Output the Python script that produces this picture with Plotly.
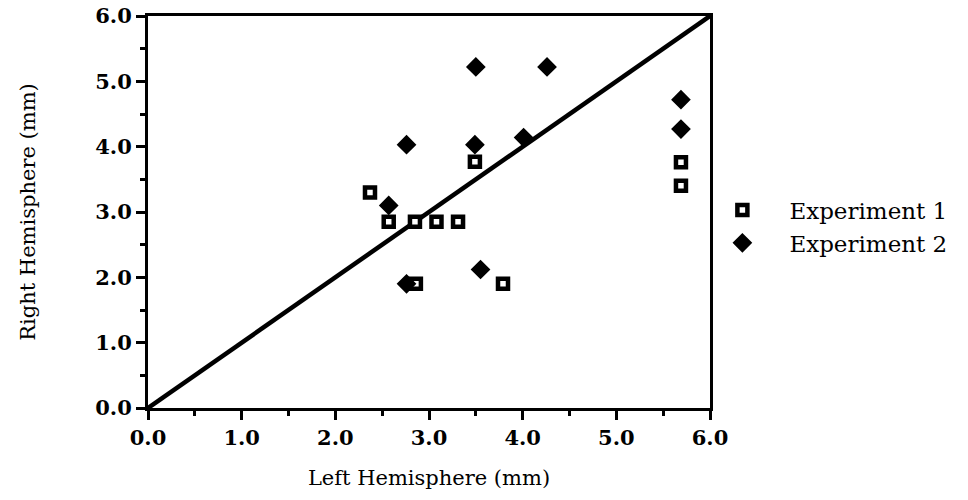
import plotly.graph_objects as go

# Experiment 1 (squares)
exp1_left = [2.37, 2.57, 2.85, 3.08, 3.31, 3.49, 2.86, 3.79, 5.69, 5.69]
exp1_right = [3.30, 2.85, 2.85, 2.85, 2.85, 3.77, 1.90, 1.90, 3.76, 3.40]

# Experiment 2 (diamonds)
exp2_left = [3.50, 4.26, 2.76, 3.49, 4.01, 2.57, 3.55, 2.76, 5.69, 5.69]
exp2_right = [5.22, 5.22, 4.03, 4.03, 4.14, 3.10, 2.12, 1.90, 4.72, 4.27]

# identity line
diag_x = [0.0, 6.0]
diag_y = [0.0, 6.0]

tick_vals = [0, 1, 2, 3, 4, 5, 6]
tick_text = ["0.0", "1.0", "2.0", "3.0", "4.0", "5.0", "6.0"]

fig = go.Figure()
fig.add_trace(go.Scatter(x=diag_x, y=diag_y, mode="lines",
                         line=dict(color="black", width=4.5), showlegend=False,
                         hoverinfo="skip"))
fig.add_trace(go.Scatter(x=exp1_left, y=exp1_right, mode="markers", name="Experiment 1",
                         marker=dict(symbol="square", size=10, color="white",
                                     line=dict(color="black", width=4.5))))
fig.add_trace(go.Scatter(x=exp2_left, y=exp2_right, mode="markers", name="Experiment 2",
                         marker=dict(symbol="diamond", size=13, color="black",
                                     line=dict(color="black", width=2))))

axis_common = dict(
    range=[0, 6], tickvals=tick_vals, ticktext=tick_text, automargin=False,
    showgrid=False, zeroline=False, showline=True, linecolor="black", linewidth=3,
    mirror=True, ticks="outside", ticklen=9, tickwidth=3, tickcolor="black",
    minor=dict(dtick=0.5, ticks="outside", ticklen=5, tickwidth=3, tickcolor="black"),
    tickfont=dict(family="DejaVu Serif", size=21, color="black", weight="bold"),
)

fig.update_layout(
    width=968, height=500,
    margin=dict(l=148, r=258, t=16, b=92),
    plot_bgcolor="white", paper_bgcolor="white",
    xaxis=dict(**axis_common,
               title=dict(text="Left Hemisphere (mm)", standoff=22,
                          font=dict(family="DejaVu Serif", size=21, color="black"))),
    yaxis=dict(**axis_common,
               title=dict(text="Right Hemisphere (mm)", standoff=54,
                          font=dict(family="DejaVu Serif", size=21, color="black"))),
    legend=dict(x=0.974, y=0.56, xanchor="left", yanchor="top",
                font=dict(family="DejaVu Serif", size=23, color="black"),
                bgcolor="rgba(0,0,0,0)", itemwidth=84, tracegroupgap=0),
    showlegend=True,
)

fig.write_html("out.html")
